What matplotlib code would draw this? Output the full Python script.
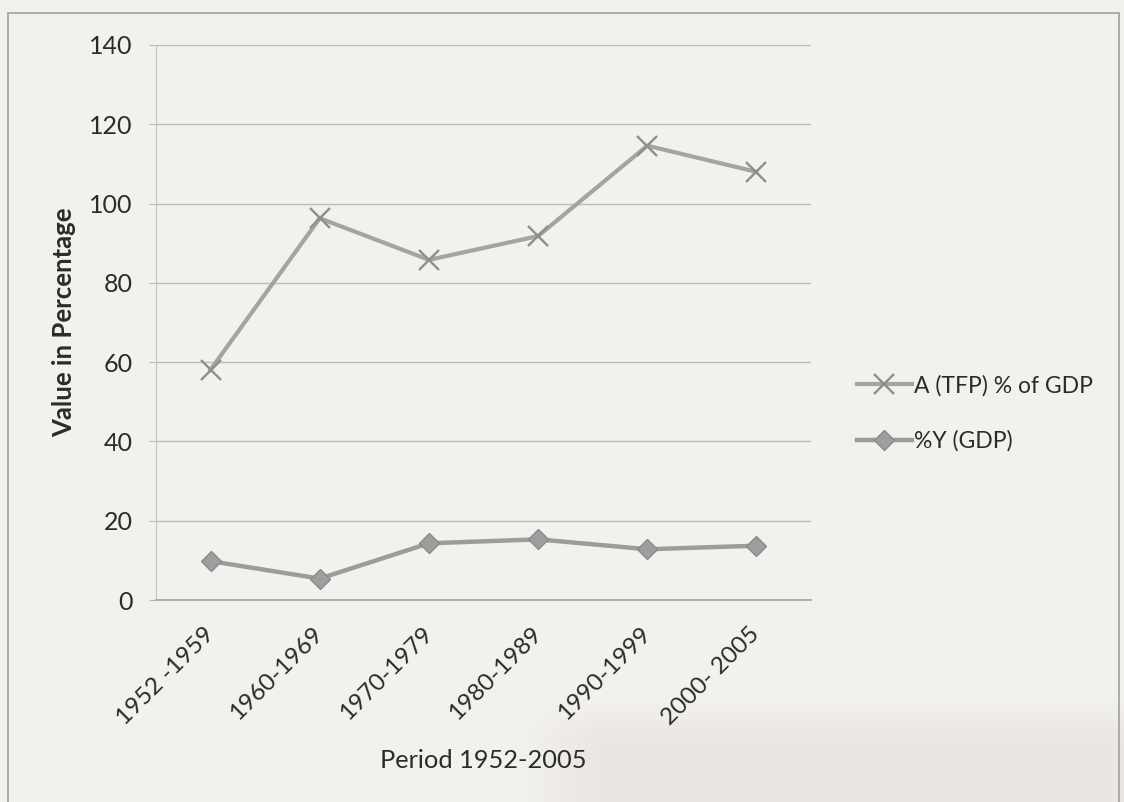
import numpy as np
import matplotlib.pyplot as plt
from matplotlib.patches import Rectangle
from matplotlib.lines import Line2D

periods = ["1952 -1959", "1960-1969", "1970-1979", "1980-1989", "1990-1999", "2000- 2005"]
tfp_share = [58.1, 96.3, 85.8, 91.8, 114.6, 108.0]
gdp_growth = [9.8, 5.4, 14.3, 15.3, 12.8, 13.7]
y_ticks = [0, 20, 40, 60, 80, 100, 120, 140]

paper = "#f3f1ed"
text_col = "#2b2b2b"
tfp_col = "#a4a4a4"
gdp_col = "#9c9c9c"
grid_col = "#bbbbbb"

plt.rcParams["font.family"] = ["Lato", "DejaVu Sans"]

W, H = 1124, 802
fig = plt.figure(figsize=(W / 100, H / 100), dpi=100, facecolor=paper)

# paper background with a soft shadow towards the lower right
bg = fig.add_axes([0, 0, 1, 1], zorder=-5)
bg.set_axis_off()
yy, xx = np.mgrid[0:H, 0:W]
shade = np.clip((yy - 700) / 40.0, 0, 1) * np.clip((xx - 520) / 80.0, 0, 1)
base = np.array([0xf3, 0xf1, 0xed]) / 255.0
dark = np.array([0xea, 0xe7, 0xe2]) / 255.0
img = base[None, None, :] * (1 - shade[..., None]) + dark[None, None, :] * shade[..., None]
bg.imshow(img, extent=(0, 1, 0, 1), aspect="auto", origin="upper")
bg.set_xlim(0, 1)
bg.set_ylim(0, 1)

# chart frame
fig.patches.append(Rectangle((8 / W, -0.05), 1111 / W, 1 - 13 / H + 0.05,
                             transform=fig.transFigure, facecolor="none",
                             edgecolor="#a6a6a6", linewidth=1.3, zorder=1))

left, right, top, bottom = 156, 811, 45, 600
ax = fig.add_axes([left / W, 1 - bottom / H, (right - left) / W, (bottom - top) / H])
ax.set_facecolor("none")

x = list(range(len(periods)))
tfp_style = dict(color=tfp_col, linewidth=3.0, marker="x", markersize=15,
                 markeredgewidth=1.7, markeredgecolor="#8e8e8e")
gdp_style = dict(color=gdp_col, linewidth=3.2, marker="D", markersize=10,
                 markerfacecolor="#9e9e9e", markeredgecolor="#8a8a8a")
ax.plot(x, tfp_share, label="A (TFP) % of GDP", zorder=3, **tfp_style)
ax.plot(x, gdp_growth, label="%Y (GDP)", zorder=3, **gdp_style)

ax.set_xlim(-0.5, len(periods) - 0.5)
ax.set_ylim(0, 140)
ax.set_yticks(y_ticks)
ax.yaxis.grid(True, color=grid_col, linewidth=1.0)
ax.set_axisbelow(True)

for s in ("top", "right"):
    ax.spines[s].set_visible(False)
ax.spines["left"].set_color("#c4c4c4")
ax.spines["bottom"].set_color("#a9a9a9")
ax.spines["bottom"].set_linewidth(1.3)

ax.tick_params(axis="y", length=5, color=grid_col, labelsize=18, labelcolor=text_col, pad=12)
ax.tick_params(axis="x", length=0, labelsize=17.5, labelcolor=text_col, pad=22)
ax.set_xticks(x)
ax.set_xticklabels(periods, rotation=45, ha="right", va="center", rotation_mode="anchor")

ax.set_ylabel("Value in Percentage", fontsize=18.5, fontweight="bold", color=text_col)
ax.yaxis.set_label_coords((76 - left) / (right - left), 0.5)
ax.set_xlabel("Period 1952-2005", fontsize=18.3, color=text_col)
ax.xaxis.set_label_coords(0.5, -(760 - bottom) / (bottom - top))
ax.xaxis.label.set_va("center")

handles = [Line2D([], [], **tfp_style), Line2D([], [], **gdp_style)]
fig.legend(handles, ["A (TFP) % of GDP", "%Y (GDP)"], loc="upper left",
           bbox_to_anchor=(836 / W, 1 - 354 / H), frameon=False, fontsize=16.5,
           labelcolor=text_col, handlelength=2.4, handletextpad=0.1, labelspacing=1.5)

fig.savefig("out.png", dpi=100, facecolor=paper)
